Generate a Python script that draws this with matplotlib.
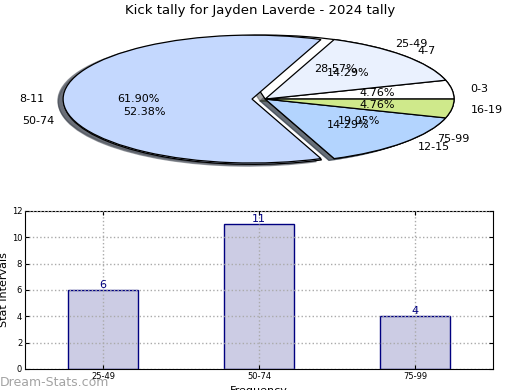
import matplotlib
matplotlib.use('Agg')
import matplotlib.pyplot as plt

# pie 1: small intervals
small_labels = ["0-3", "4-7", "8-11", "12-15", "16-19"]
small_counts = [1, 3, 13, 3, 1]
small_colors = ["#ffffff", "#eaf1fe", "#c4d8fe", "#b3d4fe", "#cfe98b"]
small_explode = [0, 0, 0.07, 0, 0]

# pie 2 / bars: larger intervals
big_labels = ["25-49", "50-74", "75-99"]
big_counts = [6, 11, 4]
big_colors = ["#ffffff", "#c4d8fe", "#b3d4fe"]
big_explode = [0, 0.07, 0]

fig = plt.figure(figsize=(5.2, 3.9), dpi=100)

ax_pie = fig.add_axes([0.056, 0.541, 0.908, 0.41])
wedge_kw = {"edgecolor": "black", "linewidth": 0.9}
ax_pie.pie(big_counts, labels=big_labels, colors=big_colors, explode=big_explode,
           autopct="%.2f%%", shadow=True, startangle=0, wedgeprops=wedge_kw,
           textprops={"fontsize": 8})
ax_pie.pie(small_counts, labels=small_labels, colors=small_colors, explode=small_explode,
           autopct="%.2f%%", shadow=True, startangle=0, wedgeprops=wedge_kw,
           textprops={"fontsize": 8})
ax_pie.set_aspect("auto")
ax_pie.set_xlim(-1.25, 1.25)
ax_pie.set_ylim(-1.25, 1.25)
fig.text(0.5, 0.972, "Kick tally for Jayden Laverde - 2024 tally", ha="center", va="center", fontsize=9.5)

ax_bar = fig.add_axes([0.048, 0.054, 0.9, 0.405])
xs = list(range(len(big_labels)))
ax_bar.bar(xs, big_counts, width=0.45, color="#ccccE4", edgecolor="#000080", linewidth=1)
for x, v in zip(xs, big_counts):
    ax_bar.text(x, v, str(v), ha="center", va="bottom", color="#000080", fontsize=8)
ax_bar.set_xlim(-0.5, 2.5)
ax_bar.set_ylim(0, 12)
ax_bar.set_yticks(range(0, 13, 2))
ax_bar.set_xticks(xs)
ax_bar.set_xticklabels(big_labels)
ax_bar.tick_params(labelsize=6, direction="in", top=True, right=True, length=3, pad=2)
ax_bar.grid(True, linestyle=":", color="#aaaaaa", linewidth=1)
ax_bar.set_axisbelow(False)
ax_bar.set_ylabel("Stat Intervals", fontsize=8, labelpad=2)
ax_bar.set_xlabel("Frequency", fontsize=8, labelpad=4)

fig.text(0.0, 0.01, "Dream-Stats.com", color="#999999", fontsize=9, alpha=0.9)

plt.savefig("out.png", dpi=100)
plt.close()
